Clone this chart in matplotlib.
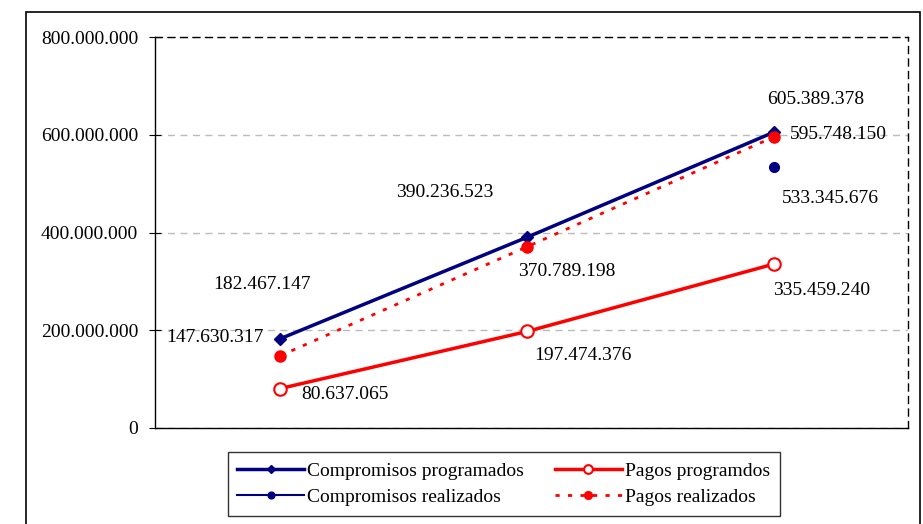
import numpy as np
import matplotlib.pyplot as plt
from matplotlib.patches import Rectangle
from matplotlib.ticker import FuncFormatter

plt.rcParams['font.family'] = ['Liberation Serif', 'DejaVu Serif']

periods = [0, 1, 2]
comp_prog = [182467147, 390236523, 605389378]
comp_real = [np.nan, np.nan, 533345676]
pagos_prog = [80637065, 197474376, 335459240]
pagos_real = [147630317, 370789198, 595748150]

navy = '#000080'
red = '#FF0000'

fig = plt.figure(figsize=(9.23, 5.24), dpi=100)
ax = fig.add_axes([155/923, 1-428/524, 753/923, 391/524])

# outer chart border
fig.patches.append(Rectangle((26/923, -0.02), 894/923, 1-12/524+0.02,
                             transform=fig.transFigure, fill=False,
                             edgecolor='black', lw=1.2))

l1, = ax.plot(periods, comp_prog, color=navy, lw=2.5, marker='D', ms=6, label='Compromisos programados')
l2, = ax.plot(periods, comp_real, color=navy, lw=1.5, marker='o', ms=7, label='Compromisos realizados')
l3, = ax.plot(periods, pagos_prog, color=red, lw=2.5, marker='o', ms=9, mfc='white', mew=1.5,
              label='Pagos programdos')
l4, = ax.plot(periods, pagos_real, color=red, lw=2, ls=(0, (1.5, 3)), marker='o', ms=8, label='Pagos realizados')

def fmt(v):
    return '{:,.0f}'.format(v).replace(',', '.')

# label offsets in pixels
labels = [
    (0, comp_prog[0], -18, 54), (0, pagos_real[0], -65, 18), (0, pagos_prog[0], 65, -6),
    (1, comp_prog[1], -82, 45), (1, pagos_real[1], 40, -25), (1, pagos_prog[1], 56, -24),
    (2, comp_prog[2], 42, 33), (2, pagos_real[2], 64, 2), (2, comp_real[2], 56, -31),
    (2, pagos_prog[2], 48, -26),
]
for x, v, dx, dy in labels:
    ax.annotate(fmt(v), (x, v), xytext=(dx, dy), textcoords='offset pixels',
                ha='center', va='center', fontsize=14)

ax.set_xlim(-125/247, 2 + 134/247)
ax.set_ylim(0, 800000000)
ax.set_yticks([0, 200000000, 400000000, 600000000, 800000000])
ax.yaxis.set_major_formatter(FuncFormatter(lambda v, p: fmt(v)))
ax.set_xticks([])
ax.tick_params(axis='y', labelsize=14, direction='inout', length=8, pad=8)
ax.grid(axis='y', color='#bbbbbb', ls=(0, (5, 4)), lw=1)
ax.set_axisbelow(True)
for s in ['top', 'right']:
    ax.spines[s].set_linestyle((0, (5, 4)))
    ax.spines[s].set_linewidth(1)
ax.spines['left'].set_linewidth(1)
ax.spines['bottom'].set_linewidth(1)

leg = fig.legend(handles=[l1, l2, l3, l4], ncol=2, loc='center',
                 bbox_to_anchor=(504/923, 1-484/524), fontsize=14, markerscale=0.7,
                 frameon=True, fancybox=False, edgecolor='black', borderpad=0.5,
                 handlelength=3.4, columnspacing=1.6, handletextpad=0.2, labelspacing=0.45)
leg.get_frame().set_linewidth(1)

fig.savefig('out.png', dpi=100)
